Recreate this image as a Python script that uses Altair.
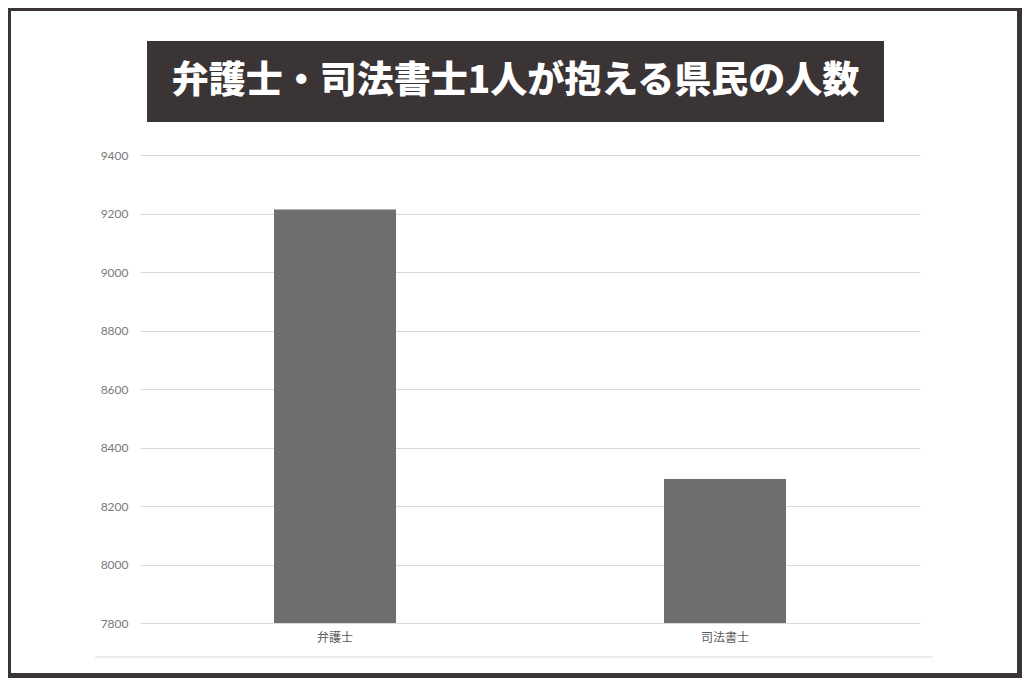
import altair as alt
import pandas as pd

# data
professions = ["弁護士", "司法書士"]
residents_per_person = [9214, 8292]
y_ticks = [7800, 8000, 8200, 8400, 8600, 8800, 9000, 9200, 9400]
title_text = "弁護士・司法書士1人が抱える県民の人数"

FRAME = "#3a3434"
BAR = "#6e6e6e"
GRID = "#d9d9d9"
JP_FONT = "Noto Sans CJK JP"

df = pd.DataFrame({"職業": professions, "人数": residents_per_person})
one = pd.DataFrame({"k": [0]})

bars = (
    alt.Chart(df)
    .mark_bar(size=122, color=BAR, clip=True)
    .encode(
        x=alt.X(
            "職業:N",
            sort=professions,
            title=None,
            scale=alt.Scale(paddingInner=0, paddingOuter=0),
            axis=alt.Axis(
                labelAngle=0,
                labelFont=JP_FONT,
                labelFontSize=12,
                labelColor="#595959",
                labelPadding=9,
                ticks=False,
                domain=False,
                grid=False,
            ),
        ),
        y=alt.Y(
            "人数:Q",
            title=None,
            scale=alt.Scale(domain=[7800, 9400], zero=False, nice=False),
            axis=alt.Axis(
                values=y_ticks,
                format="d",
                labelFont="Lato",
                labelFontSize=12,
                labelColor="#7a7a7a",
                labelPadding=12,
                ticks=False,
                domain=False,
                gridColor=GRID,
                gridWidth=1,
            ),
        ),
    )
)

# dark title banner above the plot
banner = alt.Chart(one).mark_rect(color=FRAME).encode(
    x=alt.value(7), x2=alt.value(744), y=alt.value(-114), y2=alt.value(-33)
)
banner_text = alt.Chart(one).mark_text(
    text=title_text,
    font=JP_FONT,
    fontSize=37,
    fontWeight=900,
    color="white",
    align="center",
    baseline="middle",
).encode(x=alt.value(375.5), y=alt.value(-73))

# thin separator under the category labels
separator = alt.Chart(one).mark_rule(color=GRID, strokeWidth=1).encode(
    x=alt.value(-45), x2=alt.value(793), y=alt.value(502)
)

# dark frame around the whole picture
frame_parts = [
    (-132, -129, -147, 523),
    (-132, 882, -147, -144),
    (877, 882, -147, 523),
    (-132, 882, 518, 523),
]
frames = [
    alt.Chart(one).mark_rect(color=FRAME).encode(
        x=alt.value(a), x2=alt.value(b), y=alt.value(c), y2=alt.value(d)
    )
    for a, b, c, d in frame_parts
]

chart = (
    alt.layer(bars, separator, banner, banner_text, *frames)
    .properties(
        width=780,
        height=468,
        background="white",
        autosize=alt.AutoSizeParams(type="none"),
        padding={"left": 132, "top": 147, "right": 102, "bottom": 55},
    )
    .configure_view(strokeWidth=0)
)

chart.save("out.html", embed_options={"renderer": "svg", "actions": False})
